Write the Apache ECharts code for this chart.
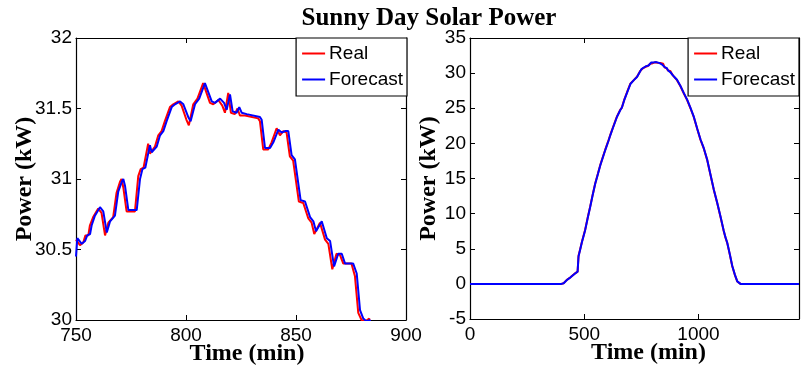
<!DOCTYPE html>
<html>
<head>
<meta charset="utf-8">
<title>Sunny Day Solar Power</title>
<script src="https://cdn.jsdelivr.net/npm/echarts@6/dist/echarts.min.js"></script>
<style>
  html, body { margin: 0; padding: 0; background: #fff; }
  #chart { width: 801px; height: 369px; }
</style>
</head>
<body>
<div id="chart"></div>
<script>
// Detail window (750-885 min): measured power and one-step forecast, kW
const winRealTime = [750.0, 751.8, 753.3, 754.3, 755.6, 756.3, 757.8, 760.1, 761.6, 763.2, 764.7, 766.9, 768.4, 770.0, 770.7, 771.5, 773.0, 776.8, 778.3, 779.4, 780.7, 782.8, 783.6, 785.9, 787.4, 788.9, 790.4, 792.7, 794.2, 796.5, 798.0, 800.2, 801.3, 803.3, 805.2, 807.8, 810.9, 812.4, 814.7, 816.5, 817.7, 819.2, 820.4, 822.2, 823.4, 824.5, 826.8, 832.8, 833.6, 835.1, 837.4, 838.9, 841.2, 842.7, 844.2, 845.7, 847.2, 848.7, 851.3, 853.3, 855.6, 857.1, 858.3, 860.9, 863.2, 864.7, 866.5, 868.4, 870.0, 871.5, 875.2, 876.8, 878.3, 879.8, 881.5, 883.3, 884.5];
const winRealPower = [30.57, 30.53, 30.55, 30.60, 30.60, 30.67, 30.73, 30.79, 30.76, 30.60, 30.69, 30.73, 30.90, 30.98, 31.00, 30.94, 30.77, 30.77, 31.02, 31.07, 31.08, 31.25, 31.18, 31.23, 31.31, 31.34, 31.41, 31.51, 31.53, 31.55, 31.52, 31.42, 31.38, 31.53, 31.57, 31.68, 31.54, 31.53, 31.56, 31.52, 31.47, 31.61, 31.47, 31.46, 31.50, 31.45, 31.45, 31.43, 31.41, 31.21, 31.21, 31.26, 31.36, 31.31, 31.34, 31.33, 31.16, 31.13, 30.84, 30.83, 30.72, 30.69, 30.61, 30.69, 30.57, 30.54, 30.36, 30.47, 30.46, 30.40, 30.40, 30.31, 30.05, 30.00, 29.99, 30.01, 29.80];

const winForecastTime = [750.0, 750.6, 752.6, 754.1, 755.1, 756.4, 757.1, 758.6, 760.9, 762.4, 764.0, 765.5, 767.7, 769.2, 770.8, 771.5, 772.3, 773.8, 777.6, 779.1, 780.2, 781.5, 783.6, 784.4, 786.7, 788.2, 789.7, 791.2, 793.5, 795.0, 797.3, 798.8, 801.0, 802.1, 804.1, 806.0, 808.6, 811.7, 813.2, 815.5, 817.3, 818.5, 820.0, 821.2, 823.0, 824.2, 825.3, 827.6, 833.6, 834.4, 835.9, 838.2, 839.7, 842.0, 843.5, 845.0, 846.5, 848.0, 849.5, 852.1, 854.1, 856.4, 857.9, 859.1, 861.7, 864.0, 865.5, 867.3, 869.2, 870.8, 872.3, 876.0, 877.6, 879.1, 880.6, 882.1, 883.6, 885.0];
const winForecastPower = [30.45, 30.58, 30.54, 30.56, 30.60, 30.61, 30.67, 30.74, 30.80, 30.77, 30.62, 30.70, 30.74, 30.91, 30.98, 31.00, 30.95, 30.78, 30.78, 31.00, 31.07, 31.08, 31.24, 31.19, 31.23, 31.31, 31.34, 31.41, 31.51, 31.53, 31.55, 31.53, 31.44, 31.41, 31.53, 31.57, 31.68, 31.55, 31.54, 31.57, 31.54, 31.49, 31.60, 31.48, 31.47, 31.51, 31.47, 31.46, 31.44, 31.42, 31.22, 31.22, 31.26, 31.35, 31.33, 31.34, 31.34, 31.17, 31.14, 30.85, 30.84, 30.73, 30.70, 30.63, 30.70, 30.58, 30.56, 30.38, 30.47, 30.47, 30.40, 30.40, 30.33, 30.07, 30.01, 29.99, 30.00, 29.78];

// Rest of the day (outside the detail window), kW
const dayTime = [0, 400, 410, 424, 440, 460, 471, 475, 482, 490, 504, 515, 526, 537, 548, 560, 570, 581, 592, 607, 614, 625, 643, 658, 665, 675, 690, 702, 717, 731, 745,
                 890, 906, 920, 936, 950, 965, 979, 995, 1009, 1023, 1038, 1052, 1067, 1082, 1096, 1110, 1118, 1126, 1137, 1148, 1160, 1170, 1177, 1184, 1440];
const dayReal = [0, 0, 0.10, 0.57, 0.95, 1.50, 1.75, 4.00, 4.90, 6.00, 7.70, 9.40, 11.00, 12.70, 14.30, 15.70, 16.90, 18.00, 19.10, 20.50, 21.20, 22.20, 23.80, 24.80, 25.10, 26.20, 27.50, 28.50, 29.00, 29.50, 30.30,
                 29.60, 29.00, 28.20, 27.10, 26.20, 25.00, 23.80, 22.00, 20.50, 19.30, 17.65, 15.60, 13.40, 11.50, 9.60, 7.60, 6.60, 5.80, 4.20, 2.50, 1.20, 0.33, 0.08, 0, 0];
const dayForecast = [0, 0, 0.10, 0.55, 0.93, 1.48, 1.74, 3.90, 4.85, 5.95, 7.65, 9.35, 10.95, 12.65, 14.25, 15.65, 16.85, 17.95, 19.05, 20.45, 21.15, 22.15, 23.75, 24.75, 25.10, 26.15, 27.45, 28.45, 29.00, 29.45, 30.25,
                 29.65, 29.05, 28.25, 27.15, 26.25, 25.05, 23.85, 22.05, 20.55, 19.35, 17.70, 15.65, 13.45, 11.55, 9.65, 7.65, 6.65, 5.85, 4.25, 2.55, 1.25, 0.36, 0.09, 0, 0];

// Tick labels
const zoomTicksX = [750, 800, 850, 900];
const zoomTicksY = [30, 30.5, 31, 31.5, 32];
const dayTicksX = [0, 500, 1000];
const dayTicksY = [-5, 0, 5, 10, 15, 20, 25, 30, 35];

function pairs(t, v) { return t.map((x, i) => [x, v[i]]); }
function daySeries(vals, winT, winV) {
  const before = [], after = [];
  dayTime.forEach((t, i) => {
    if (t < 750) before.push([t, vals[i]]);
    else if (t > 885) after.push([t, vals[i]]);
  });
  return before.concat(pairs(winT, winV), after);
}

const SANS = 'Liberation Sans, Arial, sans-serif';
const SERIF = 'Liberation Serif, Times New Roman, serif';

function xAxisPair(gridIndex, min, max, interval, ticks, nameShift) {
  const common = {
    gridIndex, type: 'value', min, max, interval,
    splitLine: { show: false },
    axisLine: { show: true, onZero: false, lineStyle: { color: '#000', width: 1.2 } },
    axisTick: { show: true, inside: true, length: 5, lineStyle: { color: '#000' } }
  };
  return [
    Object.assign({}, common, {
      position: 'bottom',
      name: 'Time (min)', nameLocation: 'middle', nameGap: 22, nameMoveOverlap: false,
      nameTextStyle: { fontFamily: SERIF, fontWeight: 'bold', fontSize: 24, color: '#000', padding: [0, 0, 0, nameShift] },
      axisLabel: {
        color: '#000', fontFamily: SANS, fontSize: 19, margin: 6,
        showMaxLabel: ticks.indexOf(max) >= 0,
        formatter: v => (ticks.indexOf(v) >= 0 ? String(v) : '')
      }
    }),
    Object.assign({}, common, { position: 'top', axisLabel: { show: false } })
  ];
}

function yAxisPair(gridIndex, min, max, interval, ticks, gap) {
  const common = {
    gridIndex, type: 'value', min, max, interval,
    splitLine: { show: false },
    axisLine: { show: true, onZero: false, lineStyle: { color: '#000', width: 1.2 } },
    axisTick: { show: true, inside: true, length: 5, lineStyle: { color: '#000' } }
  };
  return [
    Object.assign({}, common, {
      position: 'left',
      name: 'Power (kW)', nameLocation: 'middle', nameGap: gap, nameRotate: 90, nameMoveOverlap: false,
      nameTextStyle: { fontFamily: SERIF, fontWeight: 'bold', fontSize: 24, color: '#000' },
      axisLabel: {
        color: '#000', fontFamily: SANS, fontSize: 19, margin: 4,
        formatter: v => (ticks.indexOf(v) >= 0 ? String(v) : '')
      }
    }),
    Object.assign({}, common, { position: 'right', axisLabel: { show: false } })
  ];
}

function legendAt(rightPx) {
  return {
    orient: 'vertical', right: rightPx, top: 38,
    itemWidth: 23, itemHeight: 14, itemGap: 7,
    padding: [6, 4, 7, 5],
    backgroundColor: '#fff', borderColor: '#000', borderWidth: 1.2, borderRadius: 0,
    textStyle: { fontFamily: SANS, fontSize: 19, color: '#000', padding: [0, 0, 0, -1] },
    itemStyle: { opacity: 0, borderWidth: 0 },
    lineStyle: { width: 2 },
    data: ['Real', 'Forecast'],
    selectedMode: false, z: 10
  };
}

function line(name, color, xi, data) {
  return {
    name, type: 'line', xAxisIndex: xi, yAxisIndex: xi, data,
    symbol: 'none', showSymbol: false, clip: true,
    lineStyle: { color, width: 2 }, itemStyle: { color },
    emphasis: { disabled: true }
  };
}

const chart = echarts.init(document.getElementById('chart'), null, { renderer: 'canvas' });
chart.setOption({
  animation: false,
  backgroundColor: '#fff',
  graphic: [{
    type: 'text', x: 429, y: 19,
    style: { text: 'Sunny Day Solar Power', fill: '#000', font: 'bold 25px ' + SERIF, align: 'center', verticalAlign: 'middle' }
  }],
  grid: [
    { left: 76, top: 38, width: 330, height: 282, outerBoundsMode: 'none', containLabel: false },
    { left: 470, top: 38, width: 329, height: 281, outerBoundsMode: 'none', containLabel: false }
  ],
  xAxis: [].concat(
    xAxisPair(0, 750, 900, 50, zoomTicksX, 12),
    xAxisPair(1, 0, 1440, 500, dayTicksX, 28)
  ),
  yAxis: [].concat(
    yAxisPair(0, 30, 32, 0.5, zoomTicksY, 39),
    yAxisPair(1, -5, 35, 5, dayTicksY, 29)
  ),
  legend: [legendAt(801 - 407), legendAt(2)],
  series: [
    line('Real', '#ff0000', 0, pairs(winRealTime, winRealPower)),
    line('Forecast', '#0000ff', 0, pairs(winForecastTime, winForecastPower)),
    line('Real', '#ff0000', 2, daySeries(dayReal, winRealTime, winRealPower)),
    line('Forecast', '#0000ff', 2, daySeries(dayForecast, winForecastTime, winForecastPower))
  ]
});
</script>
</body>
</html>
